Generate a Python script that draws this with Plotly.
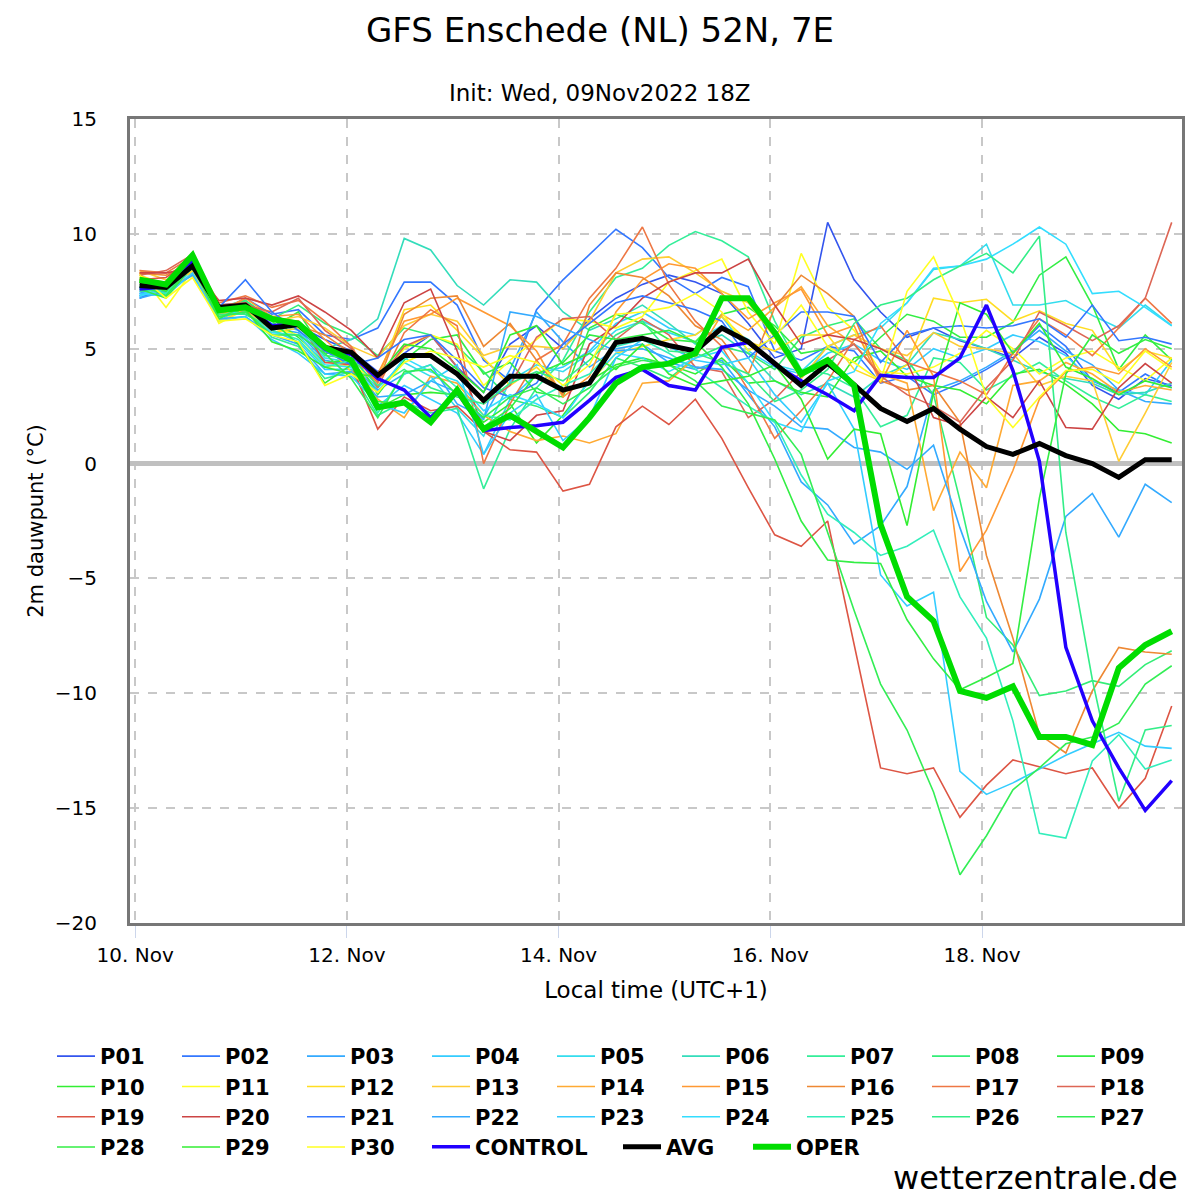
import plotly.graph_objects as go

times = [
    "2022-11-10 01:00", "2022-11-10 07:00", "2022-11-10 13:00", "2022-11-10 19:00",
    "2022-11-11 01:00", "2022-11-11 07:00", "2022-11-11 13:00", "2022-11-11 19:00",
    "2022-11-12 01:00", "2022-11-12 07:00", "2022-11-12 13:00", "2022-11-12 19:00",
    "2022-11-13 01:00", "2022-11-13 07:00", "2022-11-13 13:00", "2022-11-13 19:00",
    "2022-11-14 01:00", "2022-11-14 07:00", "2022-11-14 13:00", "2022-11-14 19:00",
    "2022-11-15 01:00", "2022-11-15 07:00", "2022-11-15 13:00", "2022-11-15 19:00",
    "2022-11-16 01:00", "2022-11-16 07:00", "2022-11-16 13:00", "2022-11-16 19:00",
    "2022-11-17 01:00", "2022-11-17 07:00", "2022-11-17 13:00", "2022-11-17 19:00",
    "2022-11-18 01:00", "2022-11-18 07:00", "2022-11-18 13:00", "2022-11-18 19:00",
    "2022-11-19 01:00", "2022-11-19 07:00", "2022-11-19 13:00", "2022-11-19 19:00",
]

P01 = [7.3, 7.6, 8.7, 6.9, 7.0, 6.4, 6.0, 5.4, 4.9, 4.0, 4.8, 5.6, 4.2, 3.1, 5.2, 6.0, 5.0, 6.3, 7.2, 7.8, 8.2, 7.9, 7.4, 6.1, 4.6, 5.0, 10.5, 8.0, 6.6, 5.5, 5.9, 5.35, 5.0, 4.6, 5.5, 4.8, 3.4, 2.8, 3.7, 3.4]
P02 = [7.4, 7.8, 8.9, 6.6, 7.2, 6.5, 6.7, 5.6, 5.4, 5.9, 7.9, 7.9, 6.9, 4.5, 3.6, 6.7, 8.0, 9.1, 10.2, 9.4, 8.1, 7.4, 8.1, 7.7, 4.9, 4.5, 5.1, 4.9, 3.5, 3.8, 3.0, 3.5, 4.1, 4.8, 6.0, 5.1, 3.6, 3.1, 3.9, 3.3]
P03 = [7.5, 7.4, 8.5, 6.4, 6.7, 5.9, 5.7, 4.5, 4.3, 3.2, 3.9, 4.3, 2.6, 2.0, 4.1, 6.6, 5.3, 4.2, 5.0, 5.2, 4.4, 4.1, 4.5, 3.0, 1.6, -0.8, -1.8, -3.5, -2.7, -1.0, 3.2, 3.6, 4.2, 4.9, 5.8, 4.9, 4.3, 3.2, 2.7, 2.6]
P04 = [7.4, 7.5, 8.4, 6.2, 6.9, 5.8, 5.3, 4.1, 4.1, 2.5, 3.4, 2.8, 2.2, 0.4, 2.8, 3.9, 4.2, 4.9, 6.1, 6.6, 5.9, 5.6, 6.4, 4.9, 4.2, 3.9, 4.8, 5.2, 4.5, 4.1, 5.0, 4.6, 5.0, 5.6, 5.3, 4.7, 3.6, 3.2, 3.0, 4.5]
P05 = [7.3, 7.4, 8.3, 6.5, 6.6, 6.1, 5.8, 4.6, 4.4, 3.3, 4.4, 3.8, 2.4, 1.2, 3.6, 4.3, 4.0, 4.8, 5.8, 6.2, 5.7, 5.3, 6.0, 5.4, 4.3, 4.0, 5.1, 5.6, 5.9, 7.0, 8.45, 8.6, 9.55, 6.9, 6.9, 7.1, 6.45, 5.9, 6.9, 6.0]
P06 = [7.6, 7.5, 8.6, 6.3, 7.1, 6.0, 5.9, 5.0, 5.4, 6.3, 9.8, 9.3, 7.75, 6.9, 8.0, 7.9, 6.6, 5.8, 6.3, 6.9, 6.1, 5.2, 5.6, 4.8, 3.6, 3.0, 3.5, 2.9, 3.8, 4.3, 5.7, 5.4, 5.0, 4.5, 4.0, 3.7, 3.5, 3.0, 3.1, 3.5]
P07 = [7.7, 7.3, 8.8, 6.5, 6.8, 5.5, 5.1, 3.7, 4.0, 2.1, 2.7, 2.2, 2.4, -1.1, 1.5, 3.3, 4.5, 6.6, 8.1, 8.5, 9.5, 10.1, 9.7, 9.0, 6.2, 4.1, 3.9, 3.3, 1.6, 2.1, 4.6, 4.4, 3.2, 3.8, 4.4, 3.6, 2.9, 2.4, 3.0, 2.7]
P08 = [8.0, 7.6, 8.9, 6.8, 7.1, 6.3, 6.9, 6.1, 5.6, 4.7, 5.9, 5.6, 5.1, 4.0, 2.8, 2.5, 2.0, 3.1, 4.6, 4.2, 3.7, 4.6, 5.1, 4.8, 4.1, 5.5, 6.0, 6.3, 5.0, 4.5, 3.0, -1.6, -6.7, -7.9, -10.1, -9.9, -9.45, -9.7, -8.75, -8.15]
P09 = [8.1, 7.4, 9.0, 6.9, 6.5, 5.9, 6.6, 4.8, 4.9, 3.0, 4.5, 5.4, 5.6, 3.9, 4.4, 3.1, 2.9, 5.9, 6.5, 6.1, 5.4, 5.3, 6.5, 6.8, 6.0, 4.8, 5.0, 4.4, 5.5, 6.5, 6.2, 5.5, 5.5, 6.15, 8.2, 9.0, 6.9, 4.1, 5.6, 4.5]
P10 = [7.9, 7.3, 8.8, 6.6, 6.7, 6.3, 5.5, 4.4, 4.5, 2.4, 3.0, 3.1, 3.0, 1.8, 2.6, 0.9, 2.1, 3.6, 4.3, 4.6, 4.3, 3.9, 4.6, 3.5, 3.6, 3.1, 2.9, 4.6, 4.9, 3.8, 3.4, 3.2, 2.6, 3.9, 4.1, 3.45, 2.6, 1.45, 1.3, 0.9]
P11 = [8.3, 6.8, 8.4, 6.1, 6.7, 5.9, 5.6, 4.2, 4.3, 3.6, 5.0, 5.6, 5.2, 3.4, 4.5, 5.4, 6.3, 6.2, 5.9, 6.4, 7.9, 8.4, 8.9, 6.6, 5.2, 9.15, 6.8, 5.8, 4.0, 3.9, 4.2, 4.8, 5.8, 5.0, 3.9, 4.6, 4.9, 4.2, 3.6, 4.6]
P12 = [8.2, 7.8, 8.4, 6.2, 6.7, 5.7, 5.9, 5.2, 4.0, 3.7, 6.7, 6.9, 5.8, 4.6, 3.4, 4.2, 3.1, 3.5, 4.8, 5.1, 5.4, 5.6, 6.4, 5.3, 4.9, 5.6, 5.6, 4.1, 3.6, 4.3, 7.2, 7.0, 7.15, 6.2, 6.65, 6.1, 5.8, 4.05, 4.9, 4.6]
P13 = [8.4, 8.0, 8.3, 6.4, 7.0, 6.2, 6.4, 5.9, 5.1, 4.6, 6.0, 6.5, 6.2, 4.7, 5.1, 5.1, 5.0, 6.2, 8.3, 8.9, 9.0, 8.3, 7.5, 7.0, 5.5, 3.7, 5.1, 5.6, 5.0, 4.7, 5.7, 5.1, 5.0, 4.8, 3.4, 3.8, 3.6, 0.1, 2.2, 4.4]
P14 = [8.1, 7.6, 8.2, 6.5, 6.9, 6.0, 6.2, 4.9, 4.6, 2.8, 2.0, 3.8, 3.5, 2.1, 1.4, 1.0, 1.2, 0.9, 1.3, 3.5, 3.6, 4.6, 6.5, 5.8, 6.8, 7.7, 6.0, 5.2, 3.9, 3.5, -2.05, 0.5, -1.05, 3.4, 3.6, 4.4, 3.9, 3.1, 3.4, 3.2]
P15 = [8.0, 7.9, 8.6, 6.6, 7.2, 6.4, 6.5, 5.4, 4.4, 3.9, 6.2, 6.5, 7.2, 6.6, 6.0, 4.9, 2.9, 3.8, 6.6, 8.0, 8.7, 8.5, 7.4, 6.3, 7.0, 7.6, 5.6, 6.0, 3.5, 5.8, 3.8, -4.7, -2.9, -0.3, 2.8, 4.0, 4.2, 3.9, 5.0, 4.2]
P16 = [8.3, 8.2, 8.8, 6.9, 6.6, 6.3, 6.0, 5.6, 4.8, 3.5, 6.5, 7.2, 7.3, 5.1, 6.1, 4.5, 3.0, 6.9, 8.3, 8.1, 7.3, 6.0, 5.4, 3.9, 6.8, 8.2, 7.4, 6.4, 3.6, 3.2, 3.4, 1.8, -4.0, -7.6, -11.8, -12.6, -9.9, -8.0, -8.2, -8.3]
P17 = [8.4, 8.3, 9.0, 7.0, 7.3, 6.8, 7.1, 6.2, 5.1, 3.3, 5.7, 6.7, 6.0, 0.0, 2.6, 4.5, 5.2, 7.2, 8.5, 10.3, 7.8, 6.2, 5.1, 3.2, 1.1, 2.3, 3.6, 5.4, 6.0, 4.4, 4.0, 3.6, 3.0, 4.8, 6.3, 5.6, 4.7, 5.9, 7.2, 6.1]
P18 = [8.2, 8.4, 9.1, 6.8, 6.9, 6.6, 7.2, 5.8, 5.0, 3.6, 5.1, 5.6, 4.2, 2.6, 3.4, 5.5, 6.3, 6.4, 5.4, 6.3, 5.6, 4.2, 4.0, 2.0, 2.8, 4.0, 4.5, 5.2, 3.8, 3.0, 2.5, 1.8, 3.3, 4.5, 6.6, 6.0, 5.35, 6.0, 7.2, 10.5]
P19 = [8.0, 8.1, 8.9, 6.9, 7.0, 6.3, 6.2, 4.4, 4.3, 1.5, 2.9, 2.3, 2.5, 1.4, 0.6, 0.5, -1.2, -0.9, 1.6, 2.5, 1.7, 2.8, 1.1, -1.05, -3.1, -3.6, -2.5, -7.9, -13.25, -13.5, -13.25, -15.4, -14.0, -12.9, -13.2, -13.5, -13.25, -15.0, -13.7, -10.55]
P20 = [8.3, 8.3, 8.5, 7.1, 7.2, 6.9, 7.3, 6.6, 5.8, 4.6, 7.0, 7.6, 4.9, 1.4, 1.0, 2.1, 2.3, 5.2, 6.0, 7.2, 7.9, 8.3, 8.3, 8.9, 6.9, 5.2, 5.6, 5.4, 5.0, 4.4, 2.0, 1.65, 2.9, 2.0, 3.6, 1.57, 1.5, 3.3, 4.35, 3.5]
P21 = [7.2, 7.7, 8.6, 6.8, 8.0, 6.6, 5.8, 4.9, 4.3, 4.6, 5.4, 5.6, 4.5, 3.3, 2.9, 3.5, 5.2, 6.1, 7.0, 7.3, 7.0, 6.7, 6.2, 4.6, 5.6, 6.6, 6.6, 6.4, 4.4, 5.6, 5.9, 6.0, 5.9, 6.0, 6.3, 5.5, 6.9, 5.35, 5.5, 5.2]
P22 = [7.2, 7.5, 8.2, 6.3, 6.4, 5.6, 5.2, 3.9, 4.0, 2.9, 3.0, 3.6, 3.1, 1.9, 6.6, 6.4, 5.9, 5.4, 4.9, 5.0, 4.6, 4.2, 4.1, 3.2, 2.5, 1.6, 1.5, 0.7, 0.5, -0.25, 0.8, -2.8, -6.0, -8.2, -5.9, -2.3, -1.3, -3.2, -0.9, -1.7]
P23 = [7.4, 7.3, 8.3, 6.2, 6.4, 5.4, 4.8, 3.9, 3.8, 2.6, 2.2, 3.6, 4.3, 0.4, 2.2, 3.0, 1.0, 2.0, 4.6, 5.4, 5.1, 4.5, 4.3, 4.6, 3.0, 1.8, 3.5, 1.5, -4.85, -6.2, -5.6, -13.4, -14.4, -13.9, -13.3, -12.7, -12.2, -11.7, -12.3, -12.4]
P24 = [7.3, 7.6, 8.5, 6.4, 6.6, 5.7, 5.6, 4.3, 4.2, 3.1, 4.6, 4.0, 3.6, 2.3, 3.0, 2.6, 2.0, 3.6, 4.8, 4.6, 4.0, 4.6, 4.9, 3.5, 1.8, 1.4, 3.6, 4.0, 6.1, 7.0, 8.5, 8.6, 8.9, 9.55, 10.3, 9.55, 7.4, 7.5, 6.8, 6.0]
P25 = [7.7, 7.4, 8.7, 6.6, 6.8, 5.8, 5.4, 4.2, 4.5, 2.2, 3.9, 4.3, 3.3, 2.1, 1.9, 2.8, 3.4, 3.9, 5.1, 5.4, 4.8, 4.1, 3.3, 2.5, 1.8, -0.5, -2.2, -3.0, -4.0, -3.6, -2.9, -5.8, -7.6, -11.2, -16.1, -16.3, -12.95, -11.8, -13.3, -12.9]
P26 = [7.5, 7.6, 8.5, 6.5, 6.5, 5.9, 6.0, 4.7, 4.6, 3.4, 4.1, 3.3, 2.9, 2.6, 3.5, 4.0, 3.6, 4.5, 5.6, 6.2, 4.9, 4.8, 4.4, 3.9, 2.7, 3.2, 4.1, 6.1, 6.9, 7.2, 8.0, 8.6, 9.15, 8.3, 9.9, -3.0, -9.4, -14.7, -11.6, -11.4]
P27 = [7.8, 7.3, 8.7, 6.4, 6.6, 5.6, 5.6, 4.8, 3.7, 2.0, 4.0, 4.1, 3.0, 2.0, 2.9, 3.3, 2.6, 3.3, 4.2, 4.5, 4.3, 3.6, 2.5, 2.2, 1.9, 0.4, -3.0, -6.4, -9.6, -11.6, -14.3, -17.9, -16.2, -14.2, -13.25, -12.2, -11.9, -11.3, -9.6, -8.8]
P28 = [7.6, 7.2, 8.6, 6.3, 6.9, 6.2, 5.2, 3.5, 4.3, 2.7, 2.6, 2.0, 3.2, 1.6, 2.4, 3.9, 4.4, 5.6, 5.4, 5.6, 5.8, 5.3, 4.2, 2.6, 0.2, -2.5, -4.2, -4.3, -4.35, -6.8, -8.5, -9.85, -9.3, -8.7, -1.5, 3.9, 5.6, 4.8, 5.4, 5.0]
P29 = [7.9, 7.5, 8.8, 6.6, 6.7, 5.3, 4.9, 4.2, 3.9, 3.8, 5.2, 5.0, 4.1, 3.1, 5.6, 6.0, 4.3, 4.8, 4.1, 5.2, 3.9, 3.4, 3.6, 3.8, 4.3, 2.8, 0.2, 1.5, 1.3, -2.7, 3.1, 7.0, 6.5, 4.8, 6.1, 4.2, 3.7, 3.0, 3.6, 3.3]
P30 = [8.2, 7.2, 8.1, 6.2, 6.3, 5.6, 5.3, 3.4, 3.9, 3.1, 4.4, 4.9, 4.6, 4.2, 4.7, 4.4, 3.4, 4.3, 6.5, 6.6, 6.8, 7.4, 6.6, 4.9, 5.5, 6.9, 5.1, 4.4, 3.6, 7.5, 9.0, 6.4, 2.9, 1.57, 2.9, 4.05, 4.1, 3.5, 4.9, 4.1]

CONTROL = [7.6, 7.7, 8.8, 6.7, 6.9, 6.0, 6.1, 5.0, 4.75, 3.7, 3.2, 2.0, 3.1, 1.43, 1.57, 1.65, 1.8, 2.75, 3.75, 4.1, 3.4, 3.2, 5.06, 5.27, 4.3, 3.6, 3.0, 2.3, 3.84, 3.75, 3.75, 4.6, 6.9, 4.05, 0.1, -8.0, -11.2, -13.25, -15.1, -13.8]
AVG = [7.75, 7.67, 8.6, 6.8, 6.9, 5.9, 6.05, 5.06, 4.84, 3.84, 4.7, 4.7, 3.9, 2.75, 3.8, 3.8, 3.2, 3.5, 5.27, 5.45, 5.14, 4.9, 5.9, 5.3, 4.36, 3.4, 4.36, 3.44, 2.4, 1.83, 2.4, 1.5, 0.74, 0.4, 0.87, 0.35, 0.0, -0.6, 0.17, 0.17]
OPER = [8.0, 7.8, 9.07, 6.67, 6.8, 6.3, 6.1, 5.06, 4.5, 2.44, 2.66, 1.8, 3.2, 1.5, 2.1, 1.4, 0.7, 2.0, 3.5, 4.2, 4.35, 4.8, 7.2, 7.2, 5.7, 3.9, 4.5, 3.4, -2.65, -5.8, -6.85, -9.9, -10.2, -9.7, -11.9, -11.9, -12.25, -8.9, -7.9, -7.3]

member_names = ["P%02d" % k for k in range(1, 31)]
member_values = [P01, P02, P03, P04, P05, P06, P07, P08, P09, P10,
                 P11, P12, P13, P14, P15, P16, P17, P18, P19, P20,
                 P21, P22, P23, P24, P25, P26, P27, P28, P29, P30]
member_colors = ["#3355ee", "#3377ff", "#33aaff", "#33ccff", "#33ddee", "#33ddbb", "#33ee99", "#33ee77", "#33ee44", "#33ee33",
                 "#ffff22", "#ffdd22", "#ffcc33", "#ffaa33", "#ff9933", "#ee8833", "#ee7744", "#dd6655", "#dd5544", "#cc4444",
                 "#3377ff", "#33aaff", "#33ccff", "#33ddff", "#33eebb", "#33ee88", "#33ee55", "#33ee44", "#33ee33", "#ffff22"]

for v in member_values + [CONTROL, AVG, OPER]:
    assert len(v) == len(times), len(v)

fig = go.Figure()
for name, vals, col in zip(member_names, member_values, member_colors):
    fig.add_trace(go.Scatter(x=times, y=vals, name=name, mode="lines", legend="legend",
                             line=dict(color=col, width=1.6)))
fig.add_trace(go.Scatter(x=times, y=CONTROL, name="CONTROL", mode="lines", legend="legend2",
                         line=dict(color="#2200ff", width=3.5)))
fig.add_trace(go.Scatter(x=times, y=AVG, name="AVG", mode="lines", legend="legend3",
                         line=dict(color="#000000", width=5)))
fig.add_trace(go.Scatter(x=times, y=OPER, name="OPER", mode="lines", legend="legend3",
                         line=dict(color="#00dd00", width=6)))

FONT = "DejaVu Sans"
L, R, T, B = 130, 18, 119, 277
W = 1200 - L - R
H = 1200 - T - B

def px_x(p):
    return (p - L) / W

def px_y(p):
    return (1200 - B - p) / H

LEG_FONT = dict(size=21, family=FONT, color="#000000", weight="bold")
ROW1_TOP = 1036
ROW_STEP = 30.2

fig.update_layout(
    width=1200, height=1200,
    margin=dict(l=L, r=R, t=T, b=B),
    paper_bgcolor="white", plot_bgcolor="white",
    font=dict(family=FONT, color="#000000"),
    title=dict(text="GFS Enschede (NL) 52N, 7E", x=0.5, xanchor="center",
               y=1 - 30 / 1200, yanchor="middle", font=dict(size=34, family=FONT)),
    showlegend=True,
    legend=dict(orientation="h", x=px_x(52), xanchor="left", y=px_y(ROW1_TOP), yanchor="top",
                entrywidth=72, entrywidthmode="pixels", traceorder="normal",
                font=LEG_FONT, itemwidth=38, tracegroupgap=0),
    legend2=dict(orientation="h", x=px_x(427), xanchor="left", y=px_y(ROW1_TOP + 3 * ROW_STEP), yanchor="top",
                 font=LEG_FONT, itemwidth=38, tracegroupgap=0),
    legend3=dict(orientation="h", x=px_x(618), xanchor="left", y=px_y(ROW1_TOP + 3 * ROW_STEP), yanchor="top",
                 entrywidth=77, entrywidthmode="pixels", traceorder="normal",
                 font=LEG_FONT, itemwidth=38, tracegroupgap=0),
    annotations=[
        dict(text="Init: Wed, 09Nov2022 18Z", xref="paper", yref="paper",
             x=px_x(600), y=px_y(93),
             xanchor="center", yanchor="middle", showarrow=False,
             font=dict(size=23, family=FONT, color="#000000")),
        dict(text="wetterzentrale.de", xref="paper", yref="paper",
             x=px_x(1180), y=px_y(1178), xanchor="right", yanchor="middle",
             showarrow=False, font=dict(size=32, family=FONT, color="#000000")),
    ],
)

fig.update_xaxes(
    type="date",
    range=["2022-11-09 22:50", "2022-11-19 21:20"],
    tick0="2022-11-10", dtick=2 * 86400000, tickformat="%d. %b",
    showgrid=True, gridcolor="#c8c8c8", griddash="dash", gridwidth=1.5,
    ticks="outside", ticklen=12, tickcolor="#ccd6eb", tickwidth=1,
    tickfont=dict(size=20, family=FONT),
    showline=True, linecolor="#777777", linewidth=3, mirror=True,
    title=dict(text="Local time (UTC+1)", font=dict(size=23, family=FONT), standoff=16),
    zeroline=False,
)
fig.update_yaxes(
    range=[-20, 15], tick0=-20, dtick=5,
    showgrid=True, gridcolor="#c8c8c8", griddash="dash", gridwidth=1.5,
    zeroline=True, zerolinecolor="#c0c0c0", zerolinewidth=5,
    ticks="outside", ticklen=26, tickcolor="rgba(0,0,0,0)",
    tickfont=dict(size=20, family=FONT),
    showline=True, linecolor="#777777", linewidth=3, mirror=True,
    title=dict(text="2m dauwpunt (°C)", font=dict(size=21, family=FONT), standoff=6),
)

fig.write_html("out.html")
